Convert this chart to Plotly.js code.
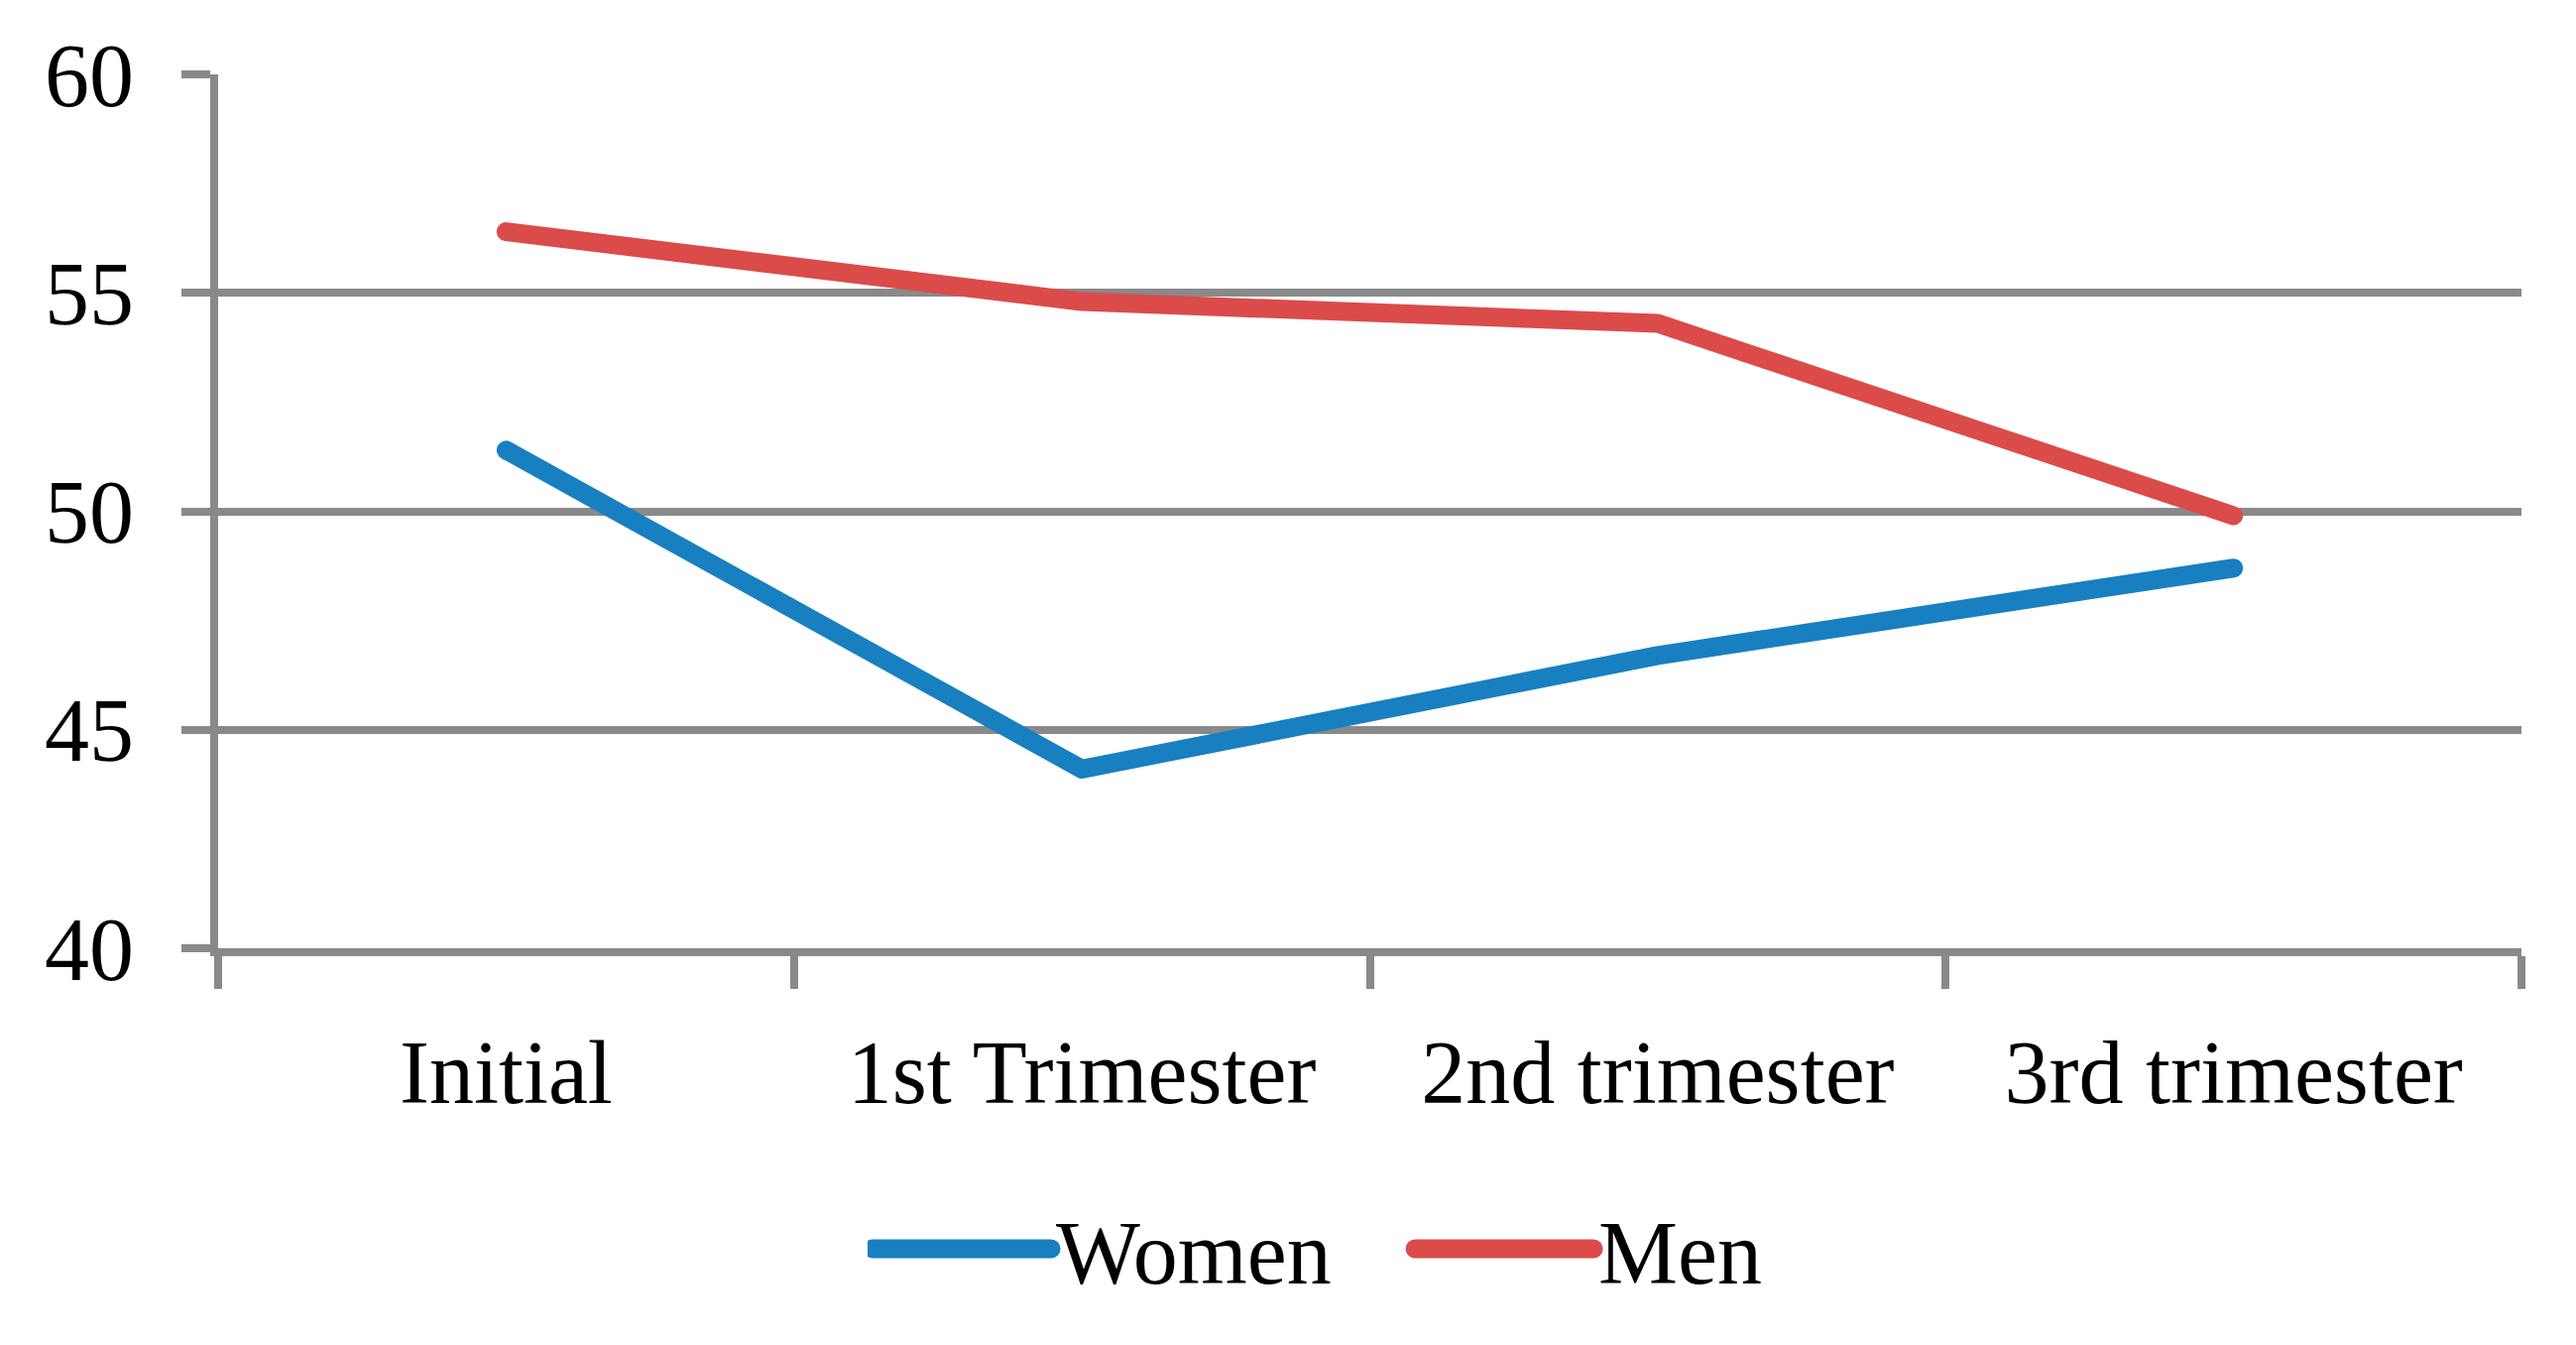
<!DOCTYPE html>
<html>
<head>
<meta charset="utf-8">
<script src="https://cdn.plot.ly/plotly-3.0.1.min.js"></script>
<style>
  html, body { margin: 0; padding: 0; background: #fff; }
  #chart { width: 2598px; height: 1356px; }
  .scatterlayer .js-line { stroke-linecap: round; stroke-linejoin: round; }
  .legendlines path { stroke-linecap: round; stroke-width: 19px !important; }
</style>
</head>
<body>
<div id="chart"></div>
<script>
const categories = ["Initial", "1st Trimester", "2nd trimester", "3rd trimester"];
const women = [51.4, 44.1, 46.7, 48.7];
const men = [56.4, 54.8, 54.3, 49.9];
const yTicks = [40, 45, 50, 55, 60];

const gridColor = "#898989";
const fontFamily = "'Liberation Serif', 'Times New Roman', serif";

const traces = [
  {
    x: categories, y: women, name: "Women", type: "scatter", mode: "lines",
    line: { color: "#1880C0", width: 19 }
  },
  {
    x: categories, y: men, name: "Men", type: "scatter", mode: "lines",
    line: { color: "#DB4B4A", width: 19 }
  }
];

const layout = {
  width: 2598, height: 1356,
  paper_bgcolor: "#ffffff", plot_bgcolor: "#ffffff",
  margin: { l: 220, r: 55, t: 75, b: 400 },
  font: { family: fontFamily, size: 90, color: "#000000" },
  showlegend: true,
  legend: {
    orientation: "h",
    x: 0.282, xanchor: "left",
    y: -0.344, yanchor: "middle",
    itemwidth: 180,
    entrywidth: 352, entrywidthmode: "pixels",
    font: { family: fontFamily, size: 90, color: "#000000" },
    traceorder: "normal"
  },
  xaxis: {
    type: "category",
    range: [-0.5, 3.5],
    tickson: "boundaries",
    ticks: "outside", ticklen: 33, tickwidth: 8, tickcolor: gridColor,
    showline: true, linecolor: gridColor, linewidth: 8,
    showgrid: false, zeroline: false,
    ticklabelstandoff: 40,
    tickfont: { family: fontFamily, size: 90, color: "#000000" },
    fixedrange: true
  },
  yaxis: {
    range: [40, 60],
    tickvals: yTicks,
    ticktext: yTicks.map(String),
    ticks: "outside", ticklen: 29, tickwidth: 8, tickcolor: gridColor,
    showline: true, linecolor: gridColor, linewidth: 8,
    showgrid: true, gridcolor: gridColor, gridwidth: 8,
    zeroline: false,
    ticklabelstandoff: 30,
    tickfont: { family: fontFamily, size: 90, color: "#000000" },
    fixedrange: true
  }
};

Plotly.newPlot("chart", traces, layout, { staticPlot: true, displayModeBar: false });
</script>
</body>
</html>
